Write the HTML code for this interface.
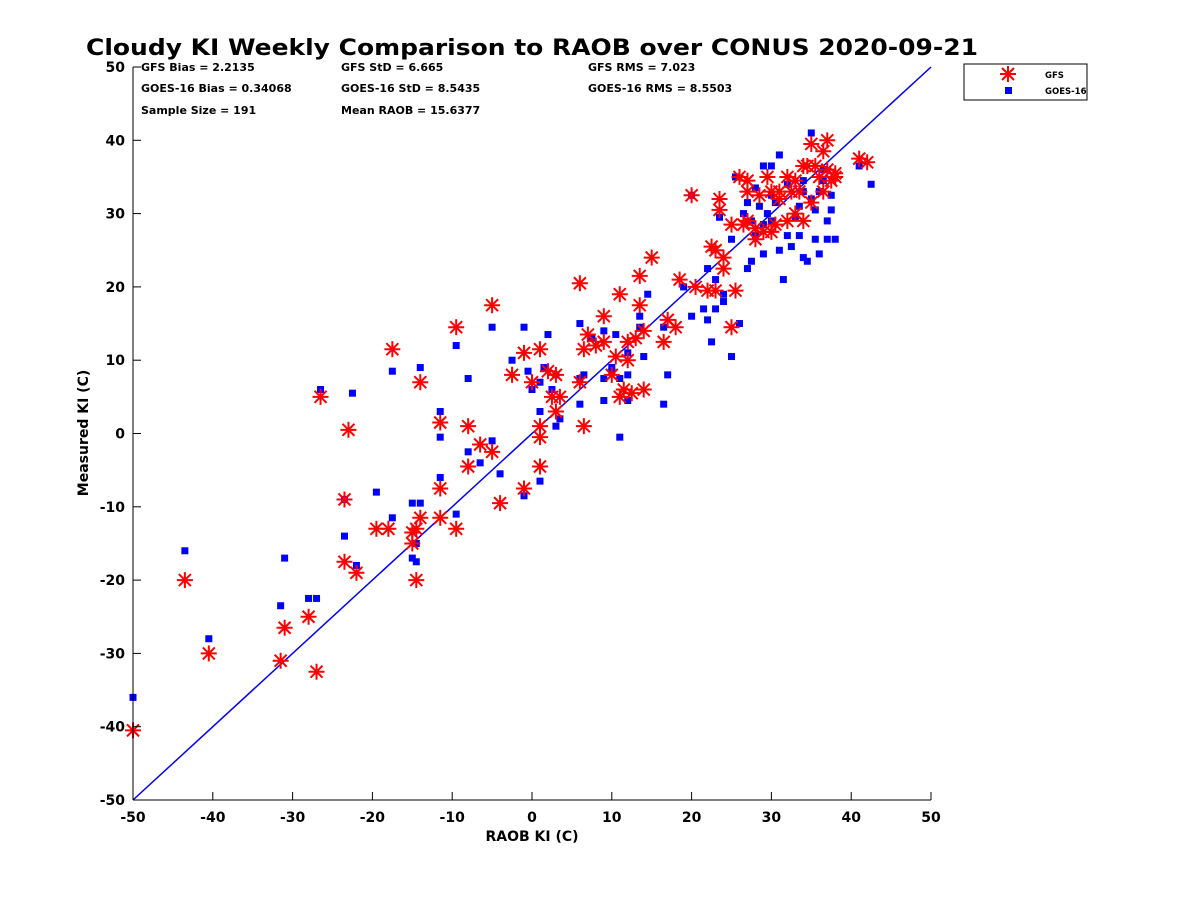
<!DOCTYPE html>
<html><head><meta charset="utf-8"><style>
body{margin:0;background:#fff;}
svg text{font-family:"DejaVu Sans","Liberation Sans",sans-serif;font-weight:bold;}
</style></head><body>
<svg id="chart" width="1200" height="900" viewBox="0 0 1200 900" xmlns="http://www.w3.org/2000/svg">
<rect width="1200" height="900" fill="#fff"/>
<text x="532" y="55" font-size="22" text-anchor="middle" textLength="892" lengthAdjust="spacingAndGlyphs">Cloudy KI Weekly Comparison to RAOB over CONUS 2020-09-21</text>
<g font-size="11">
<text x="141" y="71">GFS Bias = 2.2135</text>
<text x="341" y="71">GFS StD = 6.665</text>
<text x="588" y="71">GFS RMS = 7.023</text>
<text x="141" y="92">GOES-16 Bias = 0.34068</text>
<text x="341" y="92">GOES-16 StD = 8.5435</text>
<text x="588" y="92">GOES-16 RMS = 8.5503</text>
<text x="141" y="114">Sample Size = 191</text>
<text x="341" y="114">Mean RAOB = 15.6377</text>
</g>
<g id="marks"></g>
<g id="axes"></g>
<text x="532" y="841" font-size="14" text-anchor="middle">RAOB KI (C)</text>
<text transform="translate(88,433) rotate(-90)" font-size="14" text-anchor="middle">Measured KI (C)</text>
<g>
<rect x="964" y="64" width="123" height="36" fill="#fff" stroke="#000" stroke-width="1"/>
<g stroke="#f00" stroke-width="2">
<line x1="1000" y1="74" x2="1016" y2="74"/><line x1="1008" y1="66" x2="1008" y2="82"/>
<line x1="1002" y1="68" x2="1014" y2="80"/><line x1="1002" y1="80" x2="1014" y2="68"/></g>
<text x="1045" y="78" font-size="8.5">GFS</text>
<rect x="1005" y="87" width="7" height="7" fill="#00f"/>
<text x="1045" y="94" font-size="8.5">GOES-16</text>
</g>
</svg>
<script>
const xTicks=[-50,-40,-30,-20,-10,0,10,20,30,40,50];
const yTicks=[-50,-40,-30,-20,-10,0,10,20,30,40,50];
const gfsX=[-50,-43.5,-40.5,-31.5,-31,-28,-27,-26.5,-23,-23.5,-23.5,-22,-19.5,-18,-17.5,-14,-15,-14.5,-15,-14,-14.5,-11.5,-11.5,-11.5,-9.5,-9.5,-8,-8,-6.5,-5,-5,-4,-2.5,-1,-1,0,1,1,1,1,2,2.5,3,3,3.5,6,6,6.5,6.5,7,8,9,9,10,11,10.5,11,11.5,12,12,12.5,13,13.5,13.5,14,14,15,16.5,17,18,18.5,20,20.5,22,22.5,23,23,23.5,23.5,24,24,25,25,25.5,26,26.5,27,27,27,28,28,28.5,29,29.5,30,30.5,31,32,32,32.5,33,33.5,34,34.5,35,35,35.5,36,36.5,36.5,37,37,37.5,38,38,41,42,34,30,31,33];
const gfsY=[-40.5,-20,-30,-31,-26.5,-25,-32.5,5,0.5,-9,-17.5,-19,-13,-13,11.5,7,-13.5,-13,-15,-11.5,-20,1.5,-7.5,-11.5,14.5,-13,1,-4.5,-1.5,17.5,-2.5,-9.5,8,11,-7.5,7,11.5,-0.5,1,-4.5,8.5,5,8,3,5,20.5,7,11.5,1,13.5,12,16,12.5,8,19,10.5,5,6,12.5,10,5.5,13,17.5,21.5,6,14,24,12.5,15.5,14.5,21,32.5,20,19.5,25.5,25,19.5,30.5,32,22.5,24,14.5,28.5,19.5,35,28.5,29,33,34.5,26.5,28,32.5,27.5,35,27.5,28.5,33,29,35,33,34.5,33,36.5,36.5,31.5,39.5,36.5,35,38.5,33,40,36,34.5,35.5,35,37.5,37,29,33,32,30];
const goesX=[-50,-43.5,-40.5,-31.5,-31,-28,-27,-26.5,-22.5,-23.5,-23.5,-22,-19.5,-17.5,-17.5,-14,-15,-14,-15,-14.5,-14.5,-11.5,-11.5,-11.5,-9.5,-9.5,-8,-8,-6.5,-5,-5,-4,-2.5,-1,-1,-0.5,0,1,1,1,1.5,2,2.5,3,3,3.5,6,6,6,6.5,7.5,9,9,9,10,10,10.5,11,11,12,12,12,13.5,13.5,14,14.5,16.5,17,16.5,19,20,20,21.5,22,22,22.5,23,23,23.5,24,24,25,25,25.5,26,26.5,27,27,27.5,27.5,28,28.5,29,29,29.5,30,30,30.5,31,31,31.5,32,32,32.5,33,33.5,34,34,34,34.5,35,35.5,35.5,36,36,36.5,37,37,37.5,38,37.5,41,42.5,33.5,35,36.5,29,30,28];
const goesY=[-36,-16,-28,-23.5,-17,-22.5,-22.5,6,5.5,-9,-14,-18,-8,-11.5,8.5,9,-9.5,-9.5,-17,-17.5,-15,3,-0.5,-6,12,-11,7.5,-2.5,-4,14.5,-1,-5.5,10,14.5,-8.5,8.5,6,7,3,-6.5,9,13.5,6,8,1,2,15,4,7.5,8,13,14,4.5,7.5,8.5,9,13.5,7.5,-0.5,11,4.5,8,16,14.5,10.5,19,4,8,14.5,20,32.5,16,17,15.5,22.5,12.5,21,17,29.5,18,19,10.5,26.5,35,15,30,22.5,31.5,29,23.5,33.5,31,36.5,24.5,30,36.5,29,31.5,38,25,21,34,27,25.5,29.5,31,24,34.5,33,23.5,41,26.5,30.5,24.5,33,34.5,26.5,29,30.5,26.5,32.5,36.5,34,27,32,36,28.5,32.5,27];
const NS="http://www.w3.org/2000/svg";
const X0=133,X1=931,Y0=800,Y1=67;
function sx(v){return X0+(v+50)/100*(X1-X0);}
function sy(v){return Y0-(v+50)/100*(Y0-Y1);}
function mk(tag,attrs,parent){const e=document.createElementNS(NS,tag);for(const k in attrs)e.setAttribute(k,attrs[k]);parent.appendChild(e);return e;}
const axes=document.getElementById('axes'),marks=document.getElementById('marks');
const ref=mk('line',{x1:sx(-50),y1:sy(-50),x2:sx(50),y2:sy(50),stroke:'#00f','stroke-width':1.5},marks);


for(let i=0;i<goesX.length;i++){
 const r=mk('rect',{x:sx(goesX[i])-3.5,y:sy(goesY[i])-3.5,width:7,height:7,fill:'#00f'},marks);
 
 
}
for(let i=0;i<gfsX.length;i++){
 const cx=sx(gfsX[i]),cy=sy(gfsY[i]);
 const g=mk('g',{stroke:'#f00','stroke-width':2},marks);
 
 
 mk('line',{x1:cx-8,y1:cy,x2:cx+8,y2:cy},g);mk('line',{x1:cx,y1:cy-8,x2:cx,y2:cy+8},g);
 mk('line',{x1:cx-6,y1:cy-6,x2:cx+6,y2:cy+6},g);mk('line',{x1:cx-6,y1:cy+6,x2:cx+6,y2:cy-6},g);
}
const xa=mk('line',{x1:X0,y1:Y0,x2:X1,y2:Y0,stroke:'#000','stroke-width':1},axes);


const ya=mk('line',{x1:X0,y1:Y0,x2:X0,y2:Y1,stroke:'#000','stroke-width':1},axes);


xTicks.forEach(t=>{
 mk('line',{x1:sx(t),y1:Y0,x2:sx(t),y2:Y0-8,stroke:'#000'},axes);
 const tx=mk('text',{x:sx(t),y:Y0+22,'font-size':14,'text-anchor':'middle'},axes);tx.textContent=t;
 
 
});
yTicks.forEach(t=>{
 mk('line',{x1:X0,y1:sy(t),x2:X0+8,y2:sy(t),stroke:'#000'},axes);
 const tx=mk('text',{x:X0-8,y:sy(t)+5,'font-size':14,'text-anchor':'end'},axes);tx.textContent=t;
 
 
});
</script>
</body></html>
